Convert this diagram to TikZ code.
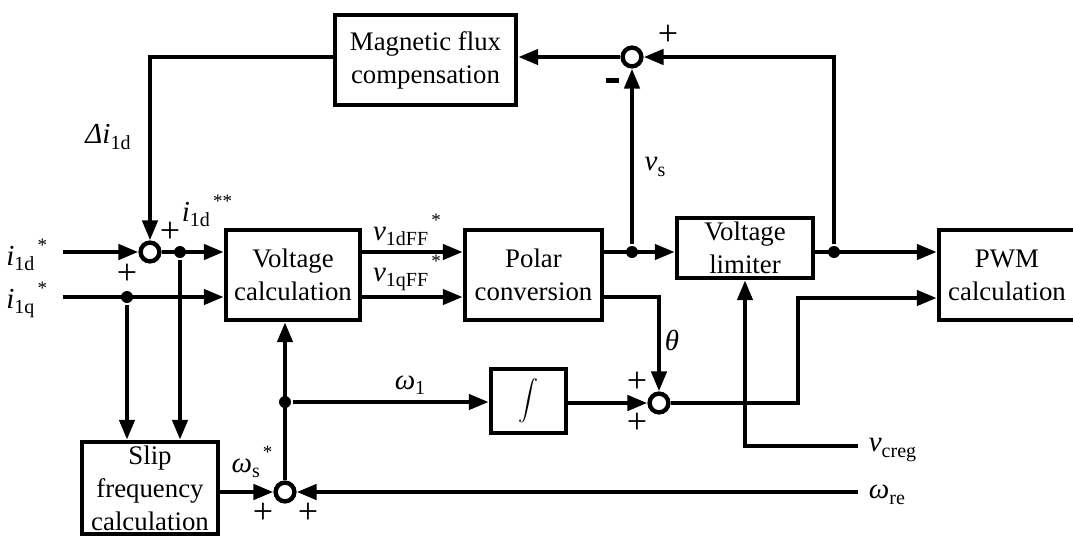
\documentclass[tikz,border=0pt]{standalone}
\usepackage{fontspec}
\setmainfont{Liberation Serif}
\usetikzlibrary{arrows.meta,positioning,calc}
\newcommand\sig[3]{{\fontsize{14.5}{14.5}\selectfont\textit{#1}}\raisebox{-0.45ex}{\fontsize{10}{10}\selectfont #2}\ifx\relax#3\relax\else\raisebox{1.1ex}{\fontsize{9.5}{9.5}\selectfont\,#3}\fi}

\begin{document}
\begin{tikzpicture}[x=0.5pt,y=-0.5pt,line width=2.2pt,
    font=\fontsize{13.4}{16.5}\selectfont,
    blockbox/.style={draw,align=center,inner sep=0pt},
    sumnode/.style={draw,circle,fill=white,minimum size=9.4pt,inner sep=0pt},
    dotnode/.style={fill,circle,minimum size=6pt,inner sep=0pt},
    signnode/.style={font=\fontsize{18}{18}\selectfont,inner sep=0pt},
    flow/.style={-{Triangle[length=10pt,width=7.5pt]}}]
        \useasboundingbox (0,0) rectangle (1073,536);
        % blocks
        \node[blockbox,minimum width=90.5pt,minimum height=45pt] (flux) at (425.5,60) {Magnetic flux\\compensation};
        \node[blockbox,minimum width=67pt,minimum height=45pt] (volt) at (293,275) {Voltage\\calculation};
        \node[blockbox,minimum width=68.5pt,minimum height=45pt] (polar) at (533.5,275) {Polar\\conversion};
        \node[blockbox,minimum width=68pt,minimum height=30pt] (limit) at (745,248) {Voltage\\limiter};
        \node[blockbox,minimum width=68pt,minimum height=45pt] (pwm) at (1007,275) {PWM\\calculation};
        \node[blockbox,minimum width=37.5pt,minimum height=32pt] (integ) at (528.5,401) {\fontsize{11}{11}\selectfont$\displaystyle\int$};
        \node[blockbox,minimum width=68pt,minimum height=46pt] (slip) at (150,488) {Slip\\frequency\\calculation};
        % summing points and branch dots
        \foreach \n/\x/\y in {s1/150/252,s2/632/57,s3/659/403,s4/285/492} \node[sumnode] (\n) at (\x,\y) {};
        \foreach \n/\x/\y in {j1/180/252,j2/127/297,j3/632/252,j4/834/252,j5/285/402} \node[dotnode] (\n) at (\x,\y) {};
        \coordinate (id) at (63,252);
        \coordinate (iq) at (63,297);
        \coordinate (knee) at (798,298);
        \coordinate (wre) at (858,492);
        \coordinate (vcr) at (858,446);
        % signals
        \draw[flow] (id) -- (s1);
        \draw[flow] (s1) -- (volt.west |- s1);
        \draw[flow] (iq) -- (volt.west |- iq);
        \draw[flow] (j1) -- (j1 |- slip.north);
        \draw[flow] (j2) -- (j2 |- slip.north);
        \draw[flow] (volt.east |- s1) -- (polar.west |- s1);
        \draw[flow] (volt.east |- iq) -- (polar.west |- iq);
        \draw[flow] (polar.east |- j3) -- (limit.west |- j3);
        \draw[flow] (j3) -- (s2);
        \draw[flow] (s2) -- (flux.east |- s2);
        \draw[flow] (flux.west |- s2) -| (s1);
        \draw[flow] (limit.east |- j4) -- (pwm.west |- j4);
        \draw[flow] (j4) |- (s2);
        \draw[flow] (polar.east |- iq) -| (s3);
        \draw[flow] (s3) -| (knee) -- (pwm.west |- knee);
        \draw[flow] (integ.east |- s3) -- (s3);
        \draw[flow] (j5) -- (integ.west |- j5);
        \draw[flow] (s4) -- (volt.south -| s4);
        \draw[flow] (slip.east |- s4) -- (s4);
        \draw[flow] (wre) -- (s4);
        \draw[flow] (vcr) -| (limit.south);
        % labels
        \node[anchor=east] (lid) at (56,255) {\sig{i}{1d}{*}};
        \node[anchor=east] (liq) at (56,300) {\sig{i}{1q}{*}};
        \node (ldi) at (108,137) {\sig{Δi}{1d}{}};
        \node (lidd) at (207,211) {\sig{i}{1d}{**}};
        \node (lvd) at (407,230) {\sig{v}{1dFF}{*}};
        \node (lvq) at (407,273) {\sig{v}{1qFF}{*}};
        \node (lvs) at (655,167) {\sig{v}{s}{}};
        \node (lth) at (672,340) {\fontsize{14.5}{14.5}\selectfont\textit{θ}};
        \node (lw1) at (410,385) {\sig{ω}{1}{}};
        \node (lws) at (252,462) {\sig{ω}{s}{*}};
        \node[anchor=west] (lvc) at (860,450) {\sig{v}{creg}{}};
        \node[anchor=west] (lwr) at (860,495) {\sig{ω}{re}{}};
        \foreach \n/\x/\y in {a/170/232,b/127/274,c/668/35,d/637/382,e/637/423,f/263/513,g/308/513} \node[signnode] (plus\n) at (\x,\y) {+};
        \node[signnode] (minus) at (612,80) {\rule{6.5pt}{2.5pt}};
      \end{tikzpicture}
\end{document}
